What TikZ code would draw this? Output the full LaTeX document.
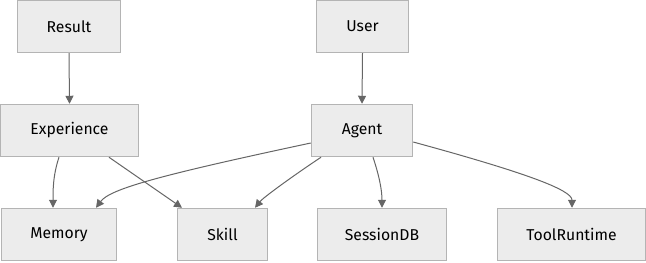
\documentclass[tikz,border=0pt]{standalone}
\usepackage{fontspec}
\setmainfont{Fira Sans}
\usetikzlibrary{arrows.meta}
\definecolor{boxfill}{HTML}{ECECEC}
\definecolor{boxline}{HTML}{B4B4B4}
\definecolor{edgecol}{HTML}{666666}
\newcommand\px{0.75pt}
\begin{document}
\begin{tikzpicture}[x=0.75pt,y=-0.75pt,
  box/.style={draw=boxline,fill=boxfill,line width=1.1pt,inner sep=0pt,
    minimum height=52*\px,font=\fontsize{11.8}{13}\selectfont,text=black},
  edge/.style={draw=edgecol,line width=0.75pt,
    -{Triangle[length=6pt,width=6pt]}}]
\useasboundingbox (0,0) rectangle (646,262);
\node[box,minimum width=103*\px] (res) at (69,26.5) {Result};
\node[box,minimum width=92*\px] (usr) at (362.5,26.5) {User};
\node[box,minimum width=138*\px] (exp) at (69.5,130.5) {Experience};
\node[box,minimum width=101*\px] (ag) at (362,130.5) {Agent};
\node[box,minimum width=115*\px] (mem) at (59,234.5) {Memory};
\node[box,minimum width=90*\px] (sk) at (222.5,234.5) {Skill};
\node[box,minimum width=129*\px] (sdb) at (382,234.5) {SessionDB};
\node[box,minimum width=148*\px] (tool) at (571.5,234.5) {ToolRuntime};
\draw[edge] (res.south) -- (exp.north);
\draw[edge] (usr.south) -- (ag.north);
\draw[edge] ([xshift=-10.5*\px]exp.south) .. controls +(-6,18) and +(0,-18) .. ([xshift=-6*\px]mem.north);
\draw[edge] ([xshift=39.5*\px]exp.south) -- ([xshift=-40.5*\px]sk.north);
\draw[edge] ([yshift=-12.5*\px]ag.west) .. controls +(-150,32) and +(14,-19) .. ([xshift=37*\px]mem.north);
\draw[edge] ([xshift=-41*\px]ag.south) .. controls +(-30,20) and +(8,-10) .. ([xshift=32.5*\px]sk.north);
\draw[edge] ([xshift=11*\px]ag.south) .. controls +(6,18) and +(0,-18) .. (sdb.north);
\draw[edge] ([yshift=-11.5*\px]ag.east) .. controls +(110,30) and +(0,-18) .. ([xshift=0.5*\px]tool.north);
\end{tikzpicture}
\end{document}
